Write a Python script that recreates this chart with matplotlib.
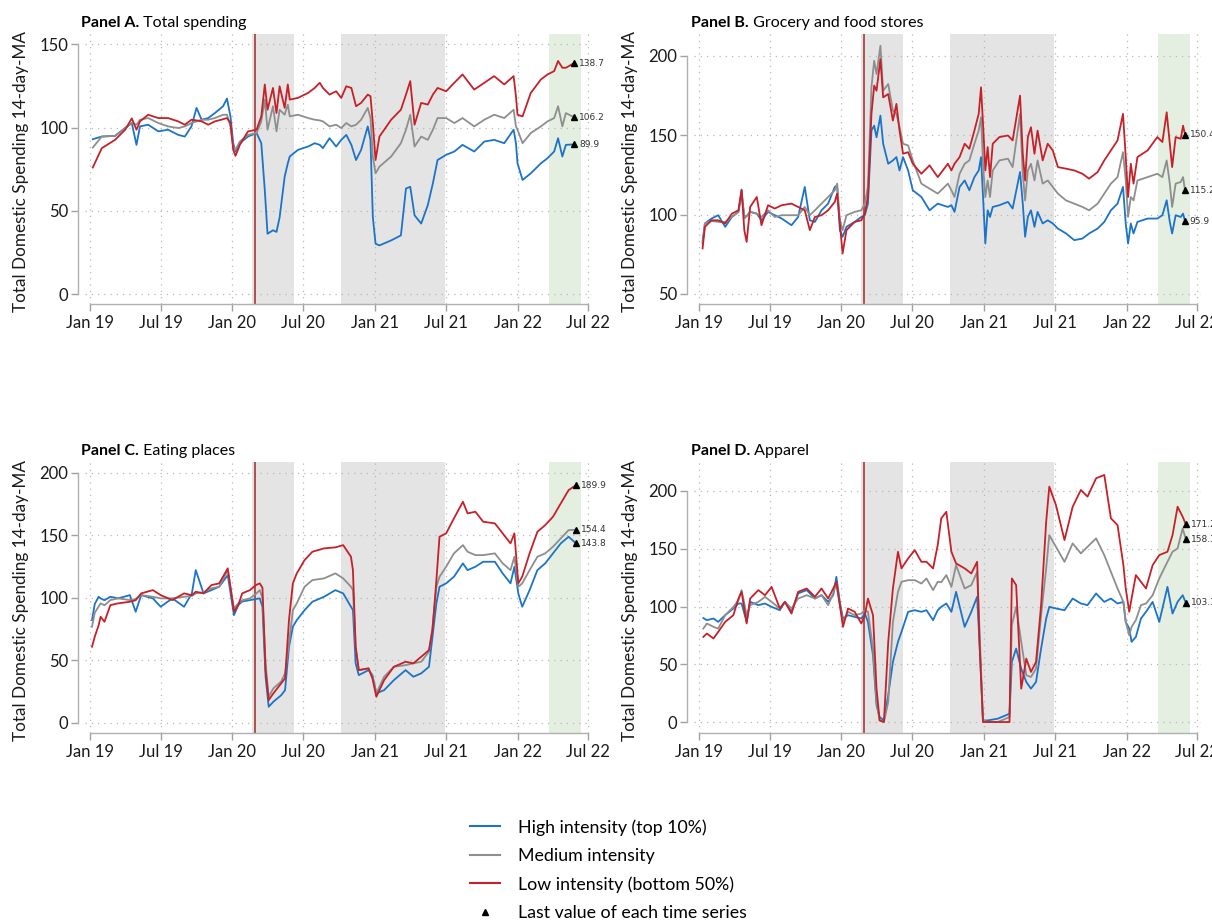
import matplotlib
matplotlib.use('Agg')
import matplotlib.pyplot as plt
import matplotlib.dates as mdates
import pandas as pd
from matplotlib.lines import Line2D

plt.rcParams['font.family'] = ['Lato', 'DejaVu Sans']

# ---------------- data (days since 2019-01-01, index values) ----------------
days_a = [7, 30, 64, 90, 107, 119, 128, 149, 175, 200,
          226, 243, 260, 273, 286, 303, 320, 341, 351, 360,
          367, 373, 384, 405, 427, 439, 448, 455, 469, 478,
          486, 499, 507, 512, 533, 559, 576, 589, 597, 614,
          631, 644, 657, 670, 682, 695, 712, 719, 725, 732,
          742, 772, 797, 810, 821, 832, 849, 866, 879, 891,
          913, 934, 955, 985, 1011, 1036, 1062, 1086, 1092, 1096,
          1109, 1130, 1156, 1173, 1190, 1200, 1211, 1220, 1241]
high_a = [93, 94.6, 95, 99.7, 102.7, 89.6, 100.7, 101.7, 97.7, 98.7,
          95.6, 94.6, 100.7, 111.8, 104.7, 105.7, 108.7, 112.8, 117.4, 106.7,
          90.6, 85.6, 90.6, 94.6, 96.7, 90.6, 62.4, 36.2, 38.3, 37.3,
          46, 70.5, 78.5, 82.6, 86.6, 88.6, 90.6, 89.6, 87.6, 93.6,
          88.6, 92.6, 95.6, 89.6, 80.5, 86.6, 100.7, 92.6, 46.3, 30.2,
          29.2, 32.2, 35.2, 63.4, 64.4, 47.3, 42.3, 53.4, 66.5, 80.5,
          83.6, 85.6, 89.6, 85.6, 91.6, 92.6, 90.6, 98.7, 90.6, 78.5,
          68.5, 72.5, 78.5, 81.6, 85.6, 93.6, 82.6, 89.6, 89.9]
med_a = [88, 94.6, 95, 99.7, 102.7, 101.7, 104.7, 105.7, 102.7, 100.7,
         99.7, 100.7, 102.7, 103.7, 104.7, 104.7, 105.7, 107.7, 107.7, 100.7,
         88.6, 86.6, 91.6, 95.6, 96.7, 103.7, 116.8, 98.7, 112.8, 97.7,
         110.7, 107.7, 113.8, 106.7, 107.7, 105.7, 104.7, 104.3, 103.7, 100.7,
         101.7, 99.7, 102.7, 100.7, 101.7, 104.7, 111.8, 105.7, 82.6, 72.5,
         76.5, 82.6, 90.6, 98.7, 107.7, 88.6, 94.6, 92.6, 98.7, 105.7,
         105.7, 102.7, 105.7, 100.7, 104.7, 107.7, 105.7, 110.7, 100.7, 98.7,
         90.6, 96.7, 100.7, 103.7, 105.7, 112.8, 100.7, 108.7, 106.2]
low_a = [76, 87.6, 92.6, 98.7, 105.5, 98.7, 103.7, 107.7, 105.7, 105.7,
         103.7, 101.7, 104.7, 104.3, 103.7, 101.7, 103.7, 105, 105.7, 102.7,
         86.6, 83, 89.6, 97.7, 98.7, 106.7, 125.9, 110.7, 123.8, 108.7,
         124.8, 111.8, 125.9, 116.8, 117.8, 120.8, 123.8, 126.9, 123.8, 119.8,
         121.8, 117.8, 124.8, 123.8, 112.8, 114.8, 119.8, 118.8, 102.7, 80.5,
         94.6, 104.7, 110.7, 119.8, 127.9, 101.7, 114.8, 113.8, 119.8, 123.8,
         121.8, 126.9, 131.9, 122.8, 126.9, 130.9, 125.9, 130.9, 118.8, 107.7,
         106.7, 120.8, 128.9, 131.9, 133.9, 140, 135.9, 135.9, 138.7]

days_b = [9, 15, 32, 49, 67, 84, 101, 109, 116, 122,
          131, 148, 160, 177, 194, 212, 237, 254, 271, 284,
          297, 314, 331, 348, 354, 361, 368, 378, 399, 416,
          425, 433, 442, 449, 455, 465, 472, 485, 497, 506,
          514, 523, 536, 548, 570, 591, 612, 638, 647, 655,
          668, 681, 693, 706, 717, 723, 729, 734, 740, 746,
          753, 770, 792, 804, 823, 830, 836, 843, 851, 860,
          868, 881, 894, 907, 920, 941, 962, 983, 1000, 1022,
          1039, 1056, 1073, 1087, 1094, 1100, 1107, 1114, 1124, 1150,
          1175, 1188, 1199, 1207, 1213, 1222, 1235, 1241, 1246]
high_b = [82.8, 94.4, 97.5, 99.6, 92.3, 98.5, 101.7, 115.3, 98.5, 99,
          101.7, 100.6, 96.4, 101.7, 99.6, 97.5, 93.3, 98.5, 117.4, 96.4,
          95.4, 102.7, 106.9, 117.4, 118.4, 90.2, 86, 92.3, 95.4, 98.5,
          99.6, 106.9, 152.9, 156, 148.7, 162.3, 144.6, 132, 134.1, 136.2,
          127.8, 136.2, 127.8, 115.3, 111.1, 102.7, 106.9, 104.8, 105.9, 101.7,
          117.4, 121.5, 115.3, 123.6, 127.8, 136.2, 106.9, 81.8, 102.7, 98.5,
          104.8, 105.9, 108, 103.8, 126.8, 106.9, 86, 98.5, 102.7, 92.3,
          101.7, 94.4, 96.4, 94.4, 91.2, 88.1, 83.9, 84.9, 88.1, 91.2,
          95.4, 102.7, 106.9, 117.4, 94.4, 81.8, 94.4, 88.1, 95.4, 97.5,
          97.5, 99.6, 109, 95.4, 88.1, 99.6, 98.5, 100.6, 95.9]
med_b = [81.8, 94.4, 96, 95.4, 95.4, 98.5, 101.7, 113.2, 97.5, 99,
         101.7, 100.6, 98.5, 102.7, 98.5, 99.6, 99.6, 99.6, 104.8, 99.6,
         102.7, 106.9, 111.1, 115.3, 119.5, 96.4, 90.2, 99.6, 101.7, 102.7,
         106.9, 117.4, 180.1, 196.9, 188.5, 206.3, 178, 182.2, 165.5, 163.4,
         155, 144.6, 143.5, 134.1, 119.5, 116.3, 113.2, 119.5, 115.3, 111.1,
         125.7, 132, 134.1, 144.6, 152.9, 161.3, 127.8, 111.1, 121.5, 111.1,
         127.8, 134.1, 135.2, 129.9, 163.4, 125.7, 108.9, 127.8, 132, 121.5,
         134.1, 119.5, 121.5, 117.4, 113.2, 108.9, 106.9, 104.8, 102.7, 106.9,
         113.2, 119.5, 123.6, 139.3, 121.5, 98.5, 111.1, 108.9, 121.5, 123.6,
         125.7, 123.6, 134.1, 119.5, 104.8, 119.5, 120.5, 123.6, 115.2]
low_b = [78.7, 92.3, 96.4, 96.4, 94.4, 100.6, 102.7, 115.7, 90.2, 82.8,
         104.8, 111.1, 93.3, 105.9, 103.8, 105.9, 106.9, 104.8, 102.7, 90.2,
         98.5, 99.6, 102.7, 108, 113.2, 94.4, 75.5, 90.2, 95.4, 96.4,
         100.6, 111.1, 163.4, 181.2, 178, 197.9, 173.8, 175.9, 159.2, 169.7,
         152.9, 138.3, 139.3, 132, 125.7, 131, 123.6, 132, 127.8, 132,
         136.2, 144.6, 141.4, 152.9, 163.4, 180.1, 152.9, 127.8, 142.5, 123.6,
         144.6, 148.8, 149.8, 146.7, 174.9, 138.3, 121.5, 148.8, 155, 138.3,
         152.9, 134.1, 144.6, 140.4, 129.9, 128.9, 127.8, 125.7, 122.6, 126.8,
         134.1, 140.4, 146.7, 163.4, 136.2, 111.1, 132, 119.5, 136.2, 140.4,
         148.8, 145.7, 164.4, 144.6, 129.9, 148.8, 147.7, 156, 150.4]

days_c = [5, 12, 22, 27, 37, 52, 72, 102, 117, 131,
          161, 181, 211, 241, 261, 271, 291, 311, 331, 353,
          369, 380, 390, 410, 425, 435, 442, 450, 458, 470,
          490, 500, 510, 520, 530, 550, 570, 600, 629, 649,
          669, 674, 681, 689, 714, 724, 734, 754, 779, 809,
          829, 849, 869, 878, 888, 896, 913, 933, 956, 968,
          988, 1008, 1038, 1058, 1078, 1088, 1098, 1108, 1127, 1147,
          1167, 1187, 1207, 1227, 1245]
high_c = [82.1, 95, 100.8, 99.5, 98, 100.8, 99.5, 102.1, 88.8, 102.1,
          99.5, 92.8, 99.5, 92.8, 103.5, 122.1, 103.5, 106.1, 108.8, 118.1,
          86.1, 94.1, 97, 98.1, 99, 99.5, 92.8, 36.8, 12.8, 16.8,
          22, 26.1, 60.8, 76.8, 82.1, 90.1, 96.8, 100.8, 106.1, 103.5,
          92.8, 90.1, 47.5, 38.1, 42.1, 38.1, 23.5, 26.1, 34.1, 42.1,
          36.8, 39.5, 44.8, 68.8, 95.5, 108.8, 111.5, 116.8, 127.5, 122.1,
          124.8, 128.8, 128.8, 119.5, 111.5, 124.8, 103.5, 92.8, 106.1, 122.1,
          127.5, 135.5, 143.5, 148.8, 143.8]
med_c = [76.8, 88, 93, 95.5, 94, 98.1, 99.5, 98.1, 99, 102.1,
         100.8, 99.5, 99.5, 100.8, 101.5, 103.5, 104.5, 107.5, 108.8, 122.1,
         91.5, 95.5, 98, 99.5, 103, 106.1, 100, 47.5, 20.8, 27.5,
         33, 39.5, 63.5, 90.1, 95.5, 108.8, 114.1, 115.5, 119.5, 115.5,
         108.8, 106.1, 60.8, 42.1, 43.5, 36.8, 23.5, 36.8, 44.8, 46.1,
         47.5, 48.8, 56.8, 76.8, 108.8, 116.8, 124.8, 135.5, 142.1, 136.8,
         134.1, 134.1, 135.5, 127.5, 122.1, 132.8, 108.8, 111.5, 122.1, 132.8,
         135.5, 140.8, 147.5, 154.1, 154.4]
low_c = [60.8, 68.8, 78, 84.8, 80.8, 94.1, 95.5, 96.8, 98, 103.5,
         106.1, 102.1, 98.1, 103.5, 102, 104.8, 103.5, 110.1, 111.5, 123.5,
         88.8, 94.1, 103.5, 106.1, 110.1, 111.5, 108, 42.1, 18.1, 23.5,
         31.5, 35.5, 82.1, 111.5, 119.5, 130.1, 136.8, 139.5, 140.3, 142.1,
         132.8, 122.1, 60.8, 42.1, 43.5, 35.5, 20.8, 34.1, 44.8, 48.8,
         47.5, 52.8, 58.1, 74.1, 114.1, 148.8, 151.5, 163.5, 176.8, 167.5,
         168.8, 160.8, 159.5, 151.5, 143.5, 151.5, 111.5, 116.8, 135.5, 152.8,
         158.1, 164.8, 175.5, 186.1, 189.9]

days_d = [11, 20, 37, 49, 67, 88, 101, 109, 122, 131,
          152, 169, 186, 207, 220, 237, 254, 276, 297, 314,
          331, 344, 352, 361, 369, 382, 399, 416, 425, 433,
          446, 455, 463, 474, 485, 497, 510, 519, 536, 553,
          570, 583, 600, 612, 621, 634, 647, 659, 681, 698,
          713, 719, 728, 740, 766, 796, 802, 813, 826, 839,
          851, 864, 877, 890, 898, 915, 937, 958, 979, 996,
          1018, 1039, 1056, 1073, 1088, 1094, 1103, 1109, 1120, 1133,
          1146, 1163, 1180, 1201, 1214, 1227, 1240, 1248]
high_d = [90, 88.2, 89.6, 86.7, 92.5, 98.3, 102.6, 102.6, 86.7, 104,
          101.2, 102.6, 99.7, 96.8, 104, 95.4, 111.3, 114.2, 106.9, 109.8,
          104, 109.8, 125.7, 104, 89.6, 92.5, 91, 89.6, 93.9, 86.7,
          57.8, 14.5, 4.3, 1.4, 23.1, 52, 69.4, 78, 95.4, 96.8,
          95.4, 96.8, 88.2, 96.8, 99.7, 102.6, 95.4, 112.7, 82.4, 95.4,
          108.4, 69.4, 1.4, 1.4, 2.9, 7.2, 52, 63.6, 46.2, 34.7,
          28.9, 34.7, 63.6, 89.6, 99.7, 98.3, 96.8, 106.9, 102.6, 101.2,
          111.3, 104, 106.9, 102.6, 104, 86.7, 80.9, 69.4, 73.7, 89.6,
          95.4, 104, 86.7, 117, 93.9, 104, 109.8, 103.3]
med_d = [80.9, 85.3, 82.4, 80.9, 92.5, 99.7, 105.5, 114.2, 92.5, 101.2,
         104, 108.4, 104, 98.3, 104, 98.3, 106.9, 109.8, 106.9, 109.8,
         101.2, 111.3, 119.9, 101.2, 86.7, 95.4, 92.5, 93.9, 96.8, 95.4,
         63.6, 17.3, 1.4, 0, 17.3, 86.7, 112.7, 121.4, 122.8, 122.8,
         119.9, 124.3, 114.2, 121.4, 121, 127.2, 117, 135.8, 115.6, 118.5,
         130, 80.9, 1.4, 0, 0, 4.3, 83.8, 99.7, 69.4, 40.5,
         39, 46.2, 92.5, 133, 161.8, 151.7, 138.7, 154.6, 146, 151.7,
         159, 144.5, 130, 115.6, 104, 86.7, 75.1, 82.4, 88.2, 101.2,
         102.6, 109.8, 124.3, 138.7, 147.4, 150.3, 167.6, 158.3]
low_d = [73.7, 76.6, 72.3, 78, 86.7, 92.5, 106.9, 112.7, 85.3, 106.9,
         114.2, 109.8, 117, 98.3, 104, 93.9, 112.7, 115.6, 108.4, 115.6,
         106.9, 115.6, 121.4, 101.2, 82.4, 98.3, 95.4, 85.3, 92.5, 106.9,
         92.5, 28.9, 1.4, 0, 69.4, 115.6, 147.4, 133, 141.6, 148.8,
         138.7, 138.7, 133, 153.2, 176.3, 182, 147.4, 137.3, 133, 128.6,
         138.7, 69.4, 0, 0, 0, 0, 124.3, 118.5, 28.9, 54.9,
         43.4, 52, 101.2, 173.4, 203.8, 187.9, 157.5, 186.4, 200.9, 195.1,
         211, 213.9, 176.3, 170.5, 135.8, 115.6, 95.4, 106.9, 127.2, 121.4,
         115.6, 135.8, 144.5, 147.4, 161.8, 186.4, 177.7, 171.2]

series_labels = ['High intensity (top 10%)', 'Medium intensity', 'Low intensity (bottom 50%)']
marker_label = 'Last value of each time series'
tick_dates = ['2019-01-01', '2019-07-01', '2020-01-01', '2020-07-01',
              '2021-01-01', '2021-07-01', '2022-01-01', '2022-07-01']
tick_labels = ['Jan 19', 'Jul 19', 'Jan 20', 'Jul 20', 'Jan 21', 'Jul 21', 'Jan 22', 'Jul 22']
lockdown_spans = [('2020-02-19', '2020-06-06'), ('2020-10-06', '2021-06-28')]
recent_span = ('2022-03-22', '2022-06-12')
first_case = '2020-02-28'
ylabel = 'Total Domestic Spending 14-day-MA'

# ---------------- style ----------------
C_HIGH, C_MED, C_LOW = '#1b74c8', '#8e8e8e', '#c62128'
W, H = 1212, 921
BASE = pd.Timestamp('2019-01-01')


def to_dates(days):
    return BASE + pd.to_timedelta(days, unit='D')


def dnum(s):
    return mdates.date2num(pd.Timestamp(s))


fig = plt.figure(figsize=(W / 100, H / 100), dpi=100)


def add_ax(left, top, right, bottom):
    return fig.add_axes([left / W, 1 - bottom / H, (right - left) / W, (bottom - top) / H])


panels = [
    dict(rect=(85, 34, 592, 304), d=days_a, s=(high_a, med_a, low_a), ylim=(-6, 156.2),
         yticks=[0, 50, 100, 150], bold='Panel A.', rest='Total spending', txy=(81, 27)),
    dict(rect=(694, 34, 1201, 304), d=days_b, s=(high_b, med_b, low_b), ylim=(43.7, 213.7),
         yticks=[50, 100, 150, 200], bold='Panel B.', rest='Grocery and food stores', txy=(691, 27)),
    dict(rect=(85, 462, 592, 733), d=days_c, s=(high_c, med_c, low_c), ylim=(-8.2, 208.6),
         yticks=[0, 50, 100, 150, 200], bold='Panel C.', rest='Eating places', txy=(81, 455)),
    dict(rect=(694, 462, 1201, 733), d=days_d, s=(high_d, med_d, low_d), ylim=(-9.5, 225.1),
         yticks=[0, 50, 100, 150, 200], bold='Panel D.', rest='Apparel', txy=(691, 455)),
]

renderer = fig.canvas.get_renderer()
xt = [dnum(t) for t in tick_dates]

for p in panels:
    ax = add_ax(*p['rect'])
    ax.set_xlim(dnum('2018-12-19'), dnum('2022-07-11'))
    ax.set_ylim(*p['ylim'])
    for a, b in lockdown_spans:
        ax.axvspan(dnum(a), dnum(b), color='#e4e4e4', lw=0, zorder=0)
    ax.axvspan(dnum(recent_span[0]), dnum(recent_span[1]), color='#e5efe1', lw=0, zorder=0)
    ax.axvline(dnum(first_case), color='#a83838', lw=1.2, zorder=1)

    ax.set_xticks(xt)
    ax.set_xticklabels(tick_labels)
    ax.set_yticks(p['yticks'])
    ax.grid(True, linestyle=(0, (1, 4)), color='#b8b8b8', lw=0.9)
    ax.set_axisbelow(True)

    dates = mdates.date2num(to_dates(p['d']))
    for vals, col in zip(p['s'], (C_HIGH, C_MED, C_LOW)):
        ax.plot(dates, vals, color=col, lw=1.3, zorder=3)
    for vals in p['s']:
        ax.plot([dates[-1]], [vals[-1]], marker='^', color='black', ms=4, zorder=4, linestyle='None')
        ax.annotate(f'{vals[-1]:.1f}', (dates[-1], vals[-1]), xytext=(3.5, 0), textcoords='offset points',
                    va='center', ha='left', fontsize=6.5, color='#333333', family='DejaVu Sans',
                    annotation_clip=False)

    for sp in ('top', 'right'):
        ax.spines[sp].set_visible(False)
    ax.spines['left'].set_position(('outward', 5))
    ax.spines['left'].set_bounds(p['yticks'][0], p['yticks'][-1])
    ax.spines['bottom'].set_bounds(xt[0], xt[-1])
    for sp in ('left', 'bottom'):
        ax.spines[sp].set_color('#b0b0b0')
        ax.spines[sp].set_linewidth(1.0)
    ax.tick_params(axis='both', colors='#a0a0a0', length=5, width=1.0, labelsize=12,
                   labelcolor='#1a1a1a')
    ax.tick_params(axis='x', pad=3)
    ax.tick_params(axis='y', pad=2)
    ax.set_ylabel(ylabel, fontsize=12.3, color='#1a1a1a')
    axw = p['rect'][2] - p['rect'][0]
    ax.yaxis.set_label_coords(-56 / axw, 0.49)

    tx, ty = p['txy']
    t1 = fig.text(tx / W, 1 - ty / H, p['bold'], fontsize=11.5, fontweight='bold', va='baseline', ha='left')
    bb = t1.get_window_extent(renderer=renderer)
    fig.text(bb.x1 / W, 1 - ty / H, ' ' + p['rest'], fontsize=11.5, va='baseline', ha='left')

handles = [Line2D([], [], color=C_HIGH, lw=1.5), Line2D([], [], color=C_MED, lw=1.5),
           Line2D([], [], color=C_LOW, lw=1.5),
           Line2D([], [], marker='^', color='black', ms=5, linestyle='None')]
fig.legend(handles, series_labels + [marker_label], loc='upper left',
           bbox_to_anchor=(470 / W, 1 - 819 / H), frameon=False, fontsize=12.8,
           handlelength=1.7, handletextpad=1.0, labelspacing=0.69, borderpad=0, borderaxespad=0)

fig.savefig('out.png', dpi=100)
